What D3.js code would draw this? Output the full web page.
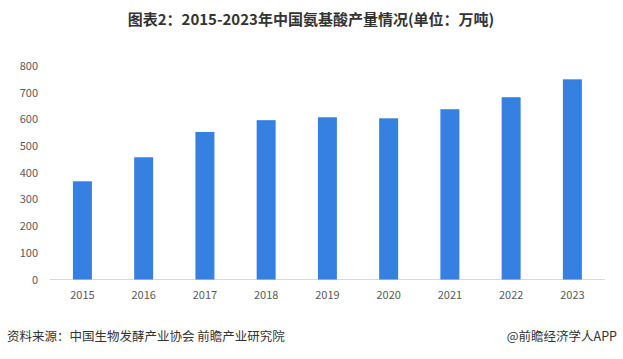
<!DOCTYPE html>
<html><head><meta charset="utf-8">
<script src="https://cdn.jsdelivr.net/npm/d3@7"></script>
<style>body{margin:0;background:#fff;} svg{display:block;}</style>
</head><body><svg id="c" width="623" height="359"></svg>
<script>
const years = ["2015","2016","2017","2018","2019","2020","2021","2022","2023"];
const output = [368, 458, 553, 597, 608, 604, 638, 683, 750];
const yTicks = [0,100,200,300,400,500,600,700,800];
const title = "图表2：2015-2023年中国氨基酸产量情况(单位：万吨)";
const source = "资料来源：中国生物发酵产业协会 前瞻产业研究院";
const credit = "@前瞻经济学人APP";

const svg = d3.select("#c");
const x = d3.scaleBand().domain(years).range([51.8, 603]).paddingInner(0.69).paddingOuter(0.345);
const y = d3.scaleLinear().domain([0, 800]).range([279.5, 66]);
const font = "'Microsoft YaHei','Noto Sans CJK SC',sans-serif";

svg.append("text").attr("x", 311).attr("y", 25).attr("text-anchor", "middle")
  .attr("font-family", font).attr("font-weight", "bold").attr("font-size", 15).attr("fill", "#333")
  .text(title);

const yAxis = svg.append("g").attr("transform", "translate(50,0)")
  .call(d3.axisLeft(y).tickValues(yTicks).tickSize(0).tickPadding(12));
yAxis.select(".domain").remove();
yAxis.selectAll("text").attr("font-family", font).attr("font-size", 11).attr("fill", "#595959");

svg.append("line").attr("x1", 50).attr("x2", 605).attr("y1", y(0)).attr("y2", y(0))
  .attr("stroke", "#d9d9d9").attr("stroke-width", 1);

svg.append("g").selectAll("rect").data(years).join("rect")
  .attr("x", d => x(d)).attr("width", x.bandwidth())
  .attr("y", (d,i) => y(output[i])).attr("height", (d,i) => y(0) - y(output[i]))
  .attr("fill", "#3580e0");

const xAxis = svg.append("g").attr("transform", `translate(0,${y(0)})`)
  .call(d3.axisBottom(x).tickSize(0).tickPadding(12));
xAxis.select(".domain").remove();
xAxis.selectAll("text").attr("font-family", font).attr("font-size", 11).attr("fill", "#595959");

svg.append("text").attr("x", 7).attr("y", 341).attr("font-family", font).attr("font-size", 12.5)
  .attr("fill", "#333").text(source);
svg.append("text").attr("x", 617).attr("y", 341).attr("text-anchor", "end").attr("font-family", font)
  .attr("font-size", 12.5).attr("fill", "#333").text(credit);
</script></body></html>
